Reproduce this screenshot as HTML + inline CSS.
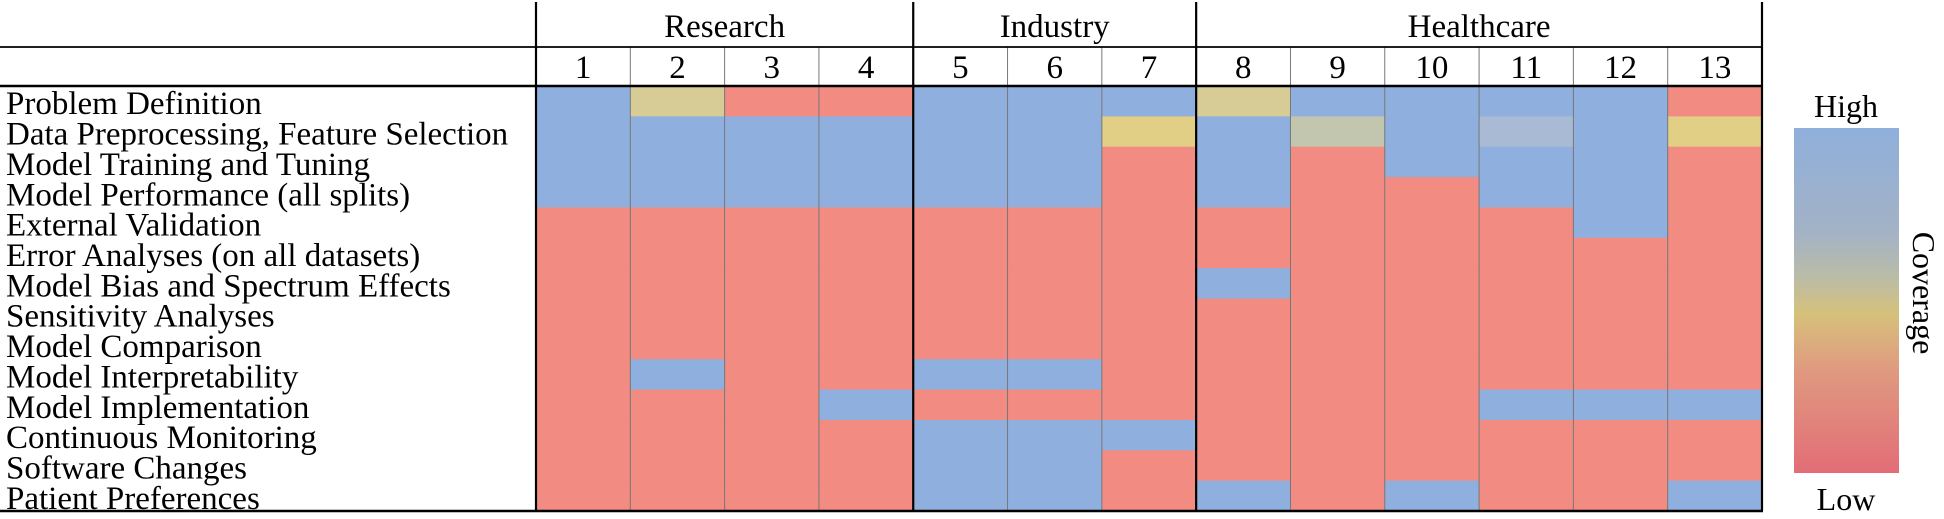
<!DOCTYPE html>
<html><head><meta charset="utf-8"><style>
html,body{margin:0;padding:0;background:#fff;}
svg{display:block;font-family:"Liberation Serif",serif;}
</style></head><body>
<svg id="chart" width="1944" height="519" viewBox="0 0 1944 519" xmlns="http://www.w3.org/2000/svg">
<defs>
<linearGradient id="cbar" x1="0" y1="0" x2="0" y2="1">
<stop offset="0" stop-color="#8fafdb"/>
<stop offset="0.3" stop-color="#a3b2c6"/>
<stop offset="0.43" stop-color="#b9bca8"/>
<stop offset="0.54" stop-color="#d6c17a"/>
<stop offset="0.7" stop-color="#e09a80"/>
<stop offset="1" stop-color="#e26d77"/>
</linearGradient>
</defs>
<g id="cells"></g>
<g id="grid"></g>
<g id="labels"></g>
<rect x="1794" y="128" width="105" height="345" fill="url(#cbar)"/>
<text x="1846" y="117" font-size="32" text-anchor="middle">High</text>
<text x="1846" y="510" font-size="32" text-anchor="middle">Low</text>
<text transform="translate(1913,293) rotate(90)" font-size="32" text-anchor="middle">Coverage</text>
</svg>
<script>
const rowLabels = ["Problem Definition","Data Preprocessing, Feature Selection","Model Training and Tuning","Model Performance (all splits)","External Validation","Error Analyses (on all datasets)","Model Bias and Spectrum Effects","Sensitivity Analyses","Model Comparison","Model Interpretability","Model Implementation","Continuous Monitoring","Software Changes","Patient Preferences"];
const colLabels = ["1","2","3","4","5","6","7","8","9","10","11","12","13"];
const groups = ["Research","Industry","Healthcare"];
const groupSizes = [4,3,6];
// values[col][row]: 0 low ... 1 high
const col1 = [1,1,1,1,0,0,0,0,0,0,0,0,0,0];
const col2 = [0.55,1,1,1,0,0,0,0,0,1,0,0,0,0];
const col3 = [0,1,1,1,0,0,0,0,0,0,0,0,0,0];
const col4 = [0,1,1,1,0,0,0,0,0,0,1,0,0,0];
const col5 = [1,1,1,1,0,0,0,0,0,1,0,1,1,1];
const col6 = [1,1,1,1,0,0,0,0,0,1,0,1,1,1];
const col7 = [1,0.5,0,0,0,0,0,0,0,0,0,1,0,0];
const col8 = [0.55,1,1,1,0,0,1,0,0,0,0,0,0,1];
const col9 = [1,0.65,0,0,0,0,0,0,0,0,0,0,0,0];
const col10 = [1,1,1,0,0,0,0,0,0,0,0,0,0,1];
const col11 = [1,0.8,1,1,0,0,0,0,0,0,1,0,0,0];
const col12 = [1,1,1,1,1,0,0,0,0,0,1,0,0,0];
const col13 = [0,0.5,0,0,0,0,0,0,0,0,1,0,0,1];
const values = [col1,col2,col3,col4,col5,col6,col7,col8,col9,col10,col11,col12,col13];

const NS="http://www.w3.org/2000/svg";
const X0=536, X1=1762, Y0=86, Y1=511;
const cw=(X1-X0)/colLabels.length, rh=(Y1-Y0)/rowLabels.length;
const xS=c=>X0+c*cw, yS=r=>Y0+r*rh;
const stops=[[0,[242,139,130]],[0.5,[225,207,134]],[0.55,[216,204,150]],[0.65,[194,198,174]],[0.8,[168,186,212]],[1,[143,176,222]]];
function color(v){
  for(let i=1;i<stops.length;i++){ if(v<=stops[i][0]){const a=stops[i-1],b=stops[i];const t=(v-a[0])/(b[0]-a[0]||1);
    return "rgb("+a[1].map((c,k)=>Math.round(c+(b[1][k]-c)*t)).join(",")+")";}}
  return "rgb(143,176,222)";
}
function mk(tag,attrs,parent){const e=document.createElementNS(NS,tag);for(const k in attrs)e.setAttribute(k,attrs[k]);parent.appendChild(e);return e;}
const cells=document.getElementById('cells'), grid=document.getElementById('grid'), labels=document.getElementById('labels');
values.forEach((col,c)=>col.forEach((v,r)=>{
  const e=mk('rect',{x:xS(c),y:yS(r),width:cw+0.6,height:rh+0.6,fill:color(v)},cells);
  
  
}));
for(let c=1;c<colLabels.length;c++){
  const e=mk('line',{x1:xS(c),x2:xS(c),y1:47,y2:Y1,stroke:'#777','stroke-width':1},grid);
  
  
}
let acc=0;
const bounds=[0];
groupSizes.forEach(s=>{acc+=s;bounds.push(acc);});
bounds.forEach(b=>{
  const e=mk('line',{x1:xS(b),x2:xS(b),y1:2,y2:Y1,stroke:'#000','stroke-width':2.2},grid);
  
  
});
[[47,1.8],[Y0,2.5],[Y1,2.5]].forEach(([y,w])=>{
  const e=mk('line',{x1:0,x2:X1+1,y1:y,y2:y,stroke:'#000','stroke-width':w},grid);
  
  
});
groups.forEach((g,i)=>{
  const t=mk('text',{x:(xS(bounds[i])+xS(bounds[i+1]))/2,y:37,'font-size':33,'text-anchor':'middle'},labels);
  t.textContent=g;
  
  
});
colLabels.forEach((l,c)=>{
  const t=mk('text',{x:xS(c)+cw/2,y:78,'font-size':33,'text-anchor':'middle'},labels);
  t.textContent=l;
  
  
});
rowLabels.forEach((l,r)=>{
  const t=mk('text',{x:6,y:yS(r)+rh/2+13,'font-size':33},labels);
  t.textContent=l;
  
  
});
</script>
</body></html>
